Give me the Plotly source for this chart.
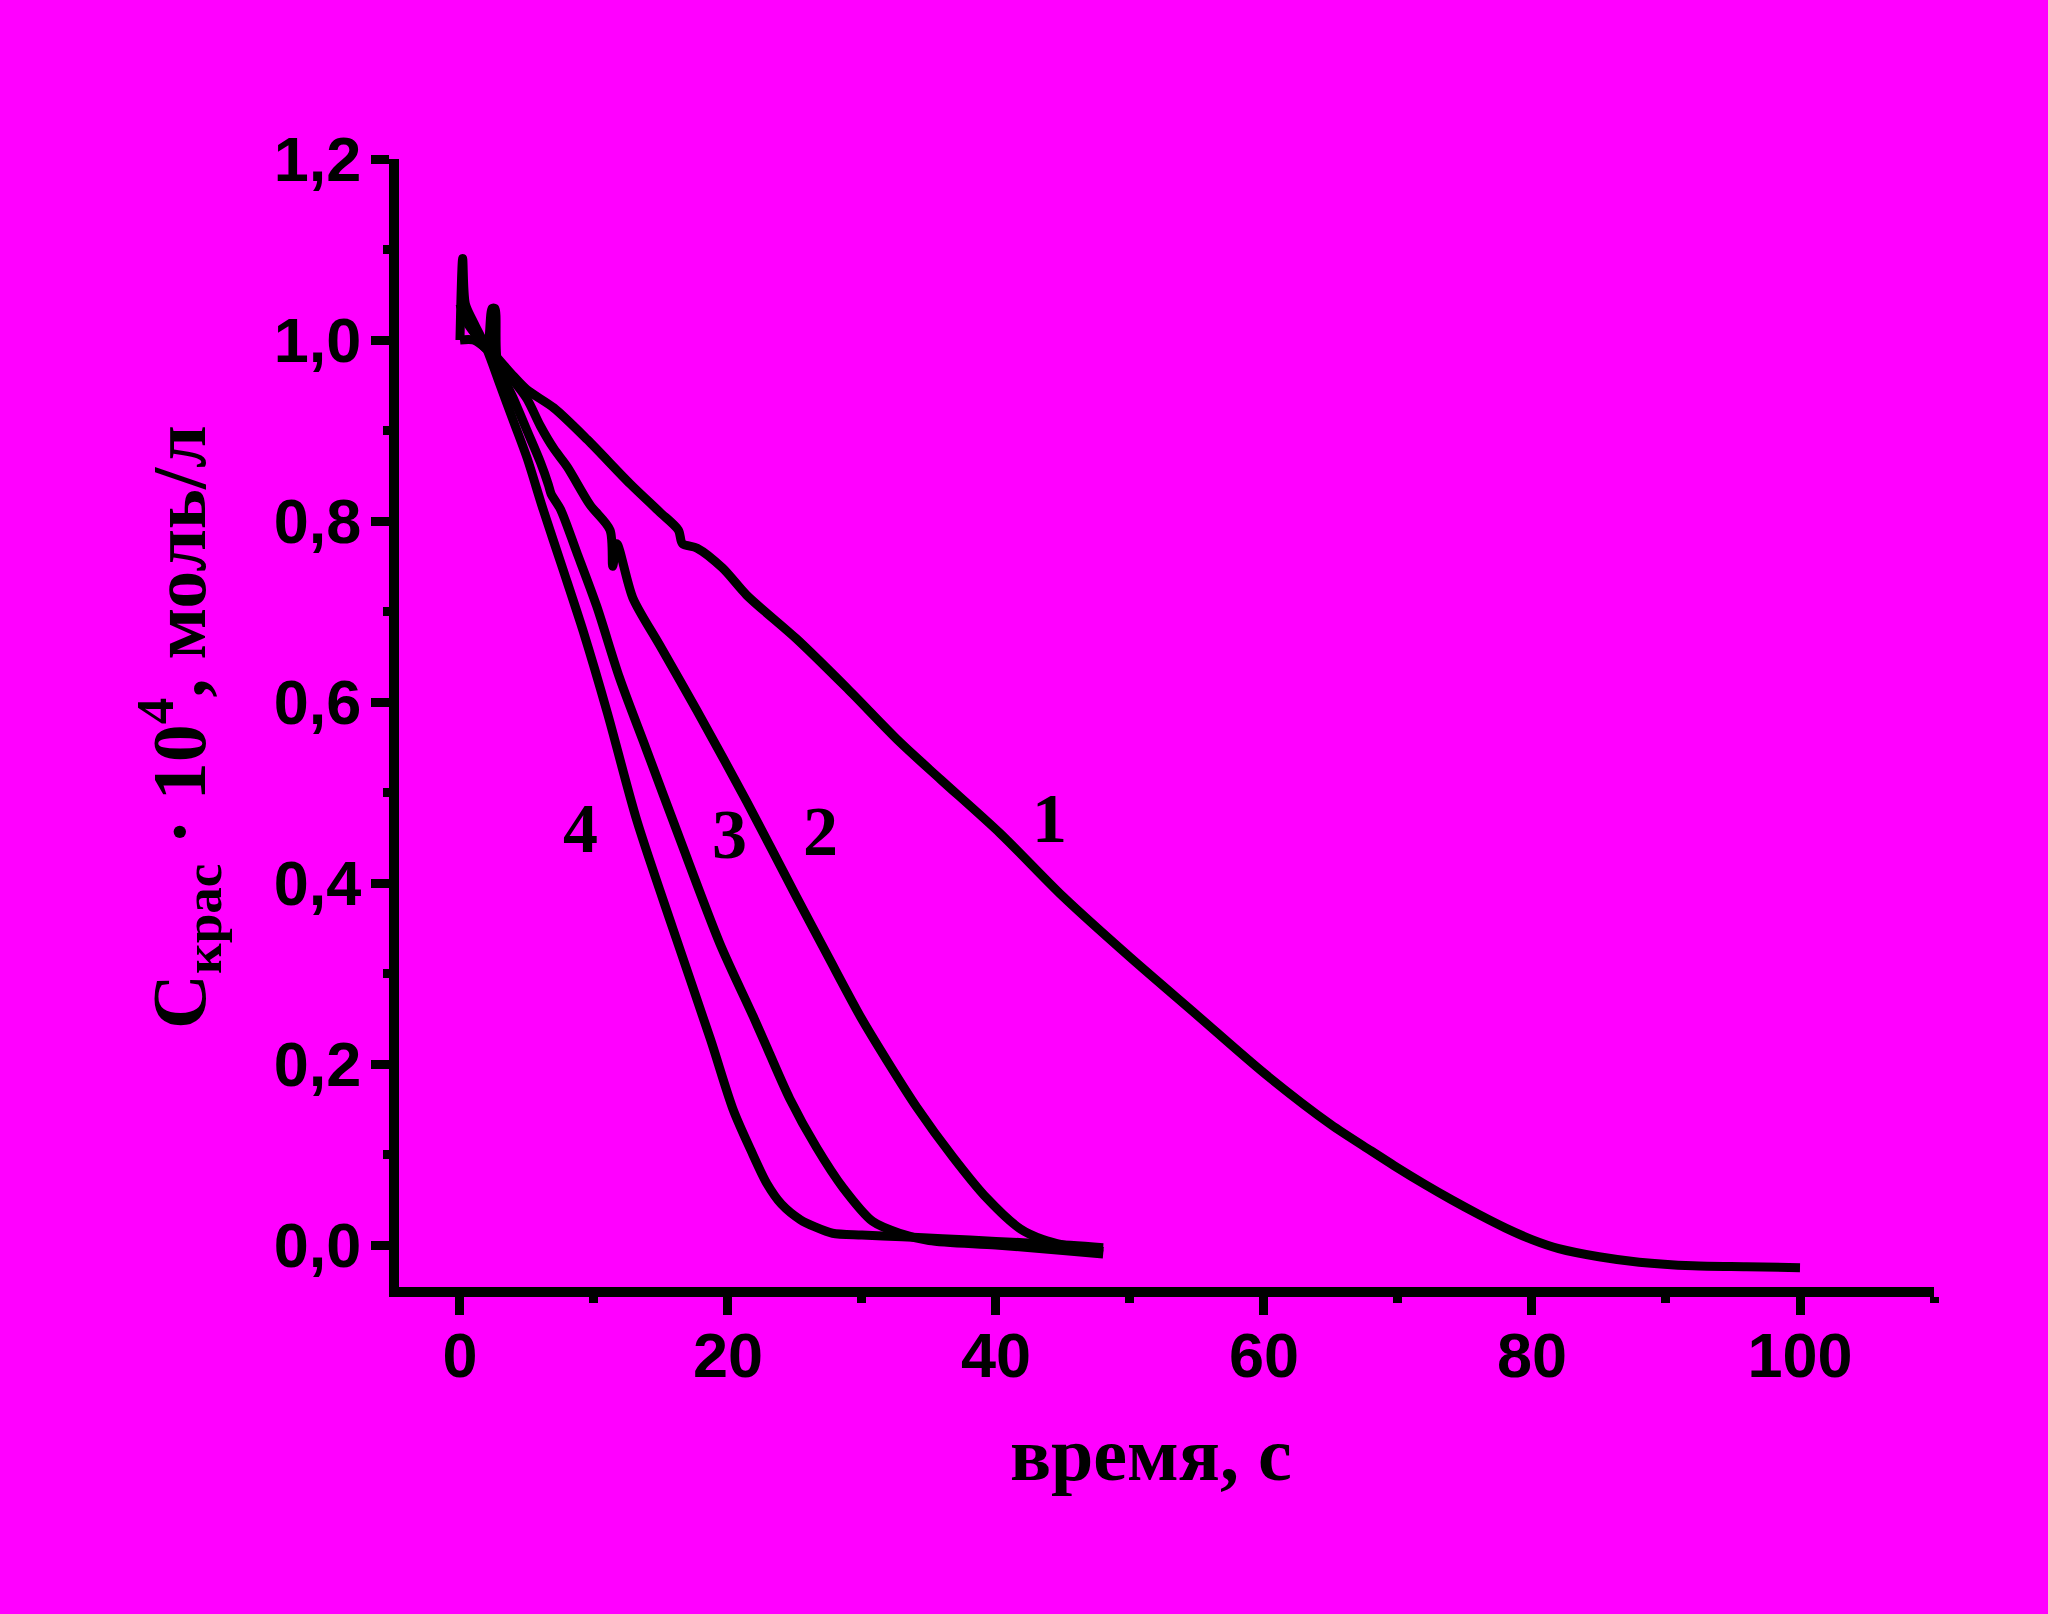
import plotly.graph_objects as go

# ---- data ----
curve1_t = [0.0, 0.5, 1.5, 2.5, 4.0, 5.0, 7.0, 9.5, 12.7, 14.9, 16.3, 16.6, 17.7, 19.6, 21.4, 25.1, 28.9,
            32.8, 35.9, 40.3, 45.0, 50.0, 55.0, 60.0, 65.0, 68.0, 70.0, 72.0, 74.0, 76.0, 78.0, 80.0,
            82.0, 85.0, 88.0, 92.0, 96.0, 100.0]
curve1_c = [1.04, 1.02, 1.0, 0.985, 0.96, 0.945, 0.925, 0.89, 0.841, 0.81, 0.79, 0.775, 0.77, 0.748, 0.718,
            0.67, 0.615, 0.556, 0.514, 0.455, 0.385, 0.318, 0.254, 0.19, 0.133, 0.104, 0.085, 0.067, 0.05,
            0.034, 0.019, 0.006, -0.004, -0.013, -0.019, -0.023, -0.024, -0.025]

curve2_t = [0.0, 1.0, 2.0, 3.0, 4.0, 5.0, 6.0, 7.0, 8.0, 9.7, 11.2, 11.4, 11.7, 12.9, 14.9, 17.7, 21.4,
            25.1, 27.5, 29.9, 31.9, 34.1, 36.8, 39.3, 41.8, 43.5, 45.0, 48.0]
curve2_c = [1.0, 1.0, 0.99, 0.975, 0.955, 0.935, 0.905, 0.88, 0.86, 0.818, 0.79, 0.75, 0.775, 0.715, 0.663,
            0.59, 0.49, 0.385, 0.318, 0.252, 0.203, 0.152, 0.097, 0.052, 0.018, 0.006, 0.0, -0.007]

curve3_t = [0.0, 1.0, 2.0, 2.4, 2.6, 2.8, 4.0, 5.0, 6.0, 6.6, 6.8, 7.5, 8.7, 10.2, 11.9, 13.9, 16.4, 19.4,
            21.9, 23.0, 24.6, 26.6, 28.6, 30.8, 32.8, 35.0, 40.0, 45.0, 48.0]
curve3_c = [1.04, 1.01, 0.99, 1.035, 1.035, 0.975, 0.935, 0.9, 0.865, 0.84, 0.83, 0.813, 0.766, 0.706, 0.627,
            0.548, 0.449, 0.333, 0.252, 0.215, 0.162, 0.108, 0.063, 0.026, 0.013, 0.005, 0.0, -0.006, -0.01]

curve4_t = [0.0, 0.2, 0.4, 1.0, 2.0, 3.0, 4.0, 5.0, 6.2, 7.7, 9.2, 11.0, 13.2, 15.9, 18.7, 20.4, 21.7, 22.9,
            24.0, 25.4, 26.5, 27.8, 30.0, 33.0, 36.0, 40.0, 44.0, 48.0]
curve4_c = [1.0, 1.09, 1.04, 1.02, 0.99, 0.95, 0.91, 0.87, 0.813, 0.746, 0.678, 0.588, 0.469, 0.349, 0.227,
            0.149, 0.105, 0.068, 0.045, 0.028, 0.02, 0.013, 0.011, 0.009, 0.007, 0.004, 0.001, -0.003]

label_text = ["1", "2", "3", "4"]
label_t = [44.0, 26.9, 20.1, 9.0]
label_c = [0.471, 0.457, 0.454, 0.46]

x_title = "время, с"
y_title = "C<sub>крас</sub> · 10<sup>4</sup>, моль/л"

# ---- figure ----
BG = "#FF00FF"
fig = go.Figure()
for t, c in [(curve1_t, curve1_c), (curve2_t, curve2_c), (curve3_t, curve3_c), (curve4_t, curve4_c)]:
    fig.add_trace(go.Scatter(x=t, y=c, mode="lines",
                             line=dict(color="black", width=9, shape="spline", smoothing=0.8),
                             showlegend=False, hoverinfo="skip"))

serif = "Liberation Serif"
for txt, t, c in zip(label_text, label_t, label_c):
    fig.add_annotation(x=t, y=c, xref="x", yref="y", text=f"<b>{txt}</b>", showarrow=False,
                       font=dict(family=serif, size=70, color="black"), xanchor="center", yanchor="middle")

fig.add_annotation(x=0.49, y=-0.148, xref="paper", yref="paper", text=f"<b>{x_title}</b>", showarrow=False,
                   font=dict(family=serif, size=76, color="black"), xanchor="center", yanchor="middle")
fig.add_annotation(x=-0.143, y=0.497, xref="paper", yref="paper", text=f"<b>{y_title}</b>", showarrow=False,
                   textangle=-90, font=dict(family=serif, size=76, color="black"),
                   xanchor="center", yanchor="middle")

tickfont = dict(family="Liberation Sans", size=63, color="black", weight="bold")
fig.update_xaxes(range=[-4.55, 110], tickvals=[0, 20, 40, 60, 80, 100], ticks="outside", ticklen=18,
                 tickwidth=9, tickcolor="black", showline=True, linewidth=10, linecolor="black",
                 showgrid=False, zeroline=False, tickfont=tickfont, ticklabelstandoff=-14,
                 minor=dict(tickvals=[10, 30, 50, 70, 90, 110], ticks="outside", ticklen=6, tickwidth=9,
                            tickcolor="black", showgrid=False))
fig.update_yaxes(range=[-0.0464, 1.2], tickvals=[0, 0.2, 0.4, 0.6, 0.8, 1.0, 1.2], tickformat=".1f",
                 ticks="outside", ticklen=18, tickwidth=9, tickcolor="black", showline=True, linewidth=10,
                 linecolor="black", showgrid=False, zeroline=False, tickfont=tickfont, ticklabelstandoff=-3,
                 minor=dict(tickvals=[0.1, 0.3, 0.5, 0.7, 0.9, 1.1], ticks="outside", ticklen=6, tickwidth=9,
                            tickcolor="black", showgrid=False))

fig.update_layout(width=2048, height=1614, paper_bgcolor=BG, plot_bgcolor=BG, separators=", ",
                  margin=dict(l=399, r=114, t=159, b=327, autoexpand=False))
fig.write_html("out.html", config={"displayModeBar": False},
               post_script="document.body.style.margin='0';document.body.style.background='#FF00FF';")
